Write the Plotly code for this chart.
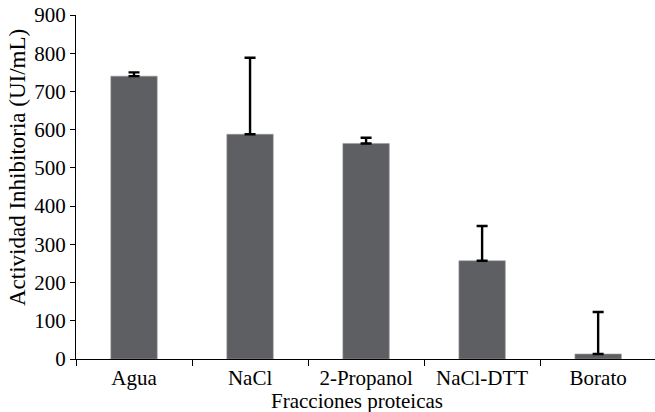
import plotly.graph_objects as go

categories = ["Agua", "NaCl", "2-Propanol", "NaCl-DTT", "Borato"]
values = [740, 588, 564, 257, 13]
errors = [10, 200, 15, 91, 110]
y_ticks = [0, 100, 200, 300, 400, 500, 600, 700, 800, 900]

FONT = "Liberation Serif, Times New Roman, serif"
FS = 21

fig = go.Figure()
fig.add_trace(go.Bar(
    x=categories, y=values, width=0.4,
    marker=dict(color="#5e5f63", line=dict(color="#9a9a9a", width=0.6)),
    showlegend=False, hoverinfo="skip",
))
# error bars drawn from bar top to bar top + error, with caps at both ends
fig.add_trace(go.Scatter(
    x=categories, y=[v + e / 2 for v, e in zip(values, errors)], mode="markers",
    marker=dict(size=0.1, color="rgba(0,0,0,0)"),
    error_y=dict(type="data", array=[e / 2 for e in errors], symmetric=True,
                 color="black", thickness=2.4, width=5.5),
    showlegend=False, hoverinfo="skip",
))

fig.update_layout(
    width=655, height=412,
    margin=dict(l=76, r=0, t=15, b=53),
    plot_bgcolor="white", paper_bgcolor="white",
    font=dict(family=FONT, size=FS, color="black"),
    xaxis=dict(
        type="category", range=[-0.5, 4.49], automargin=False,
        tickson="boundaries", ticks="outside", ticklen=6, tickwidth=1.2, tickcolor="black",
        showline=True, linecolor="black", linewidth=1.2,
        showgrid=False, zeroline=False,
        tickfont=dict(family=FONT, size=FS, color="black"),
    ),
    yaxis=dict(
        range=[0, 900], tickvals=y_ticks, automargin=False,
        ticks="outside", ticklen=5, tickwidth=1.2, tickcolor="black",
        showline=True, linecolor="black", linewidth=1.2,
        showgrid=False, zeroline=False,
        tickfont=dict(family=FONT, size=FS, color="black"),
    ),
    annotations=[
        dict(text="Fracciones proteicas", xref="paper", yref="paper",
             x=(357 - 76) / 579, y=(412 - 53 - 401) / 344, xanchor="center", yanchor="middle",
             showarrow=False, font=dict(family=FONT, size=FS, color="black")),
        dict(text="Actividad Inhibitoria (UI/mL)", xref="paper", yref="paper",
             x=(17 - 76) / 579, y=(359 - 168) / 344, xanchor="center", yanchor="middle",
             textangle=-90, showarrow=False, font=dict(family=FONT, size=23, color="black")),
    ],
)

fig.write_html("out.html", config={"displayModeBar": False})

# remove the browser's default page margin so the figure sits at the window's corner
with open("out.html", encoding="utf-8") as f:
    html = f.read()
html = html.replace("<body>", '<body style="margin:0;overflow:hidden">', 1)
with open("out.html", "w", encoding="utf-8") as f:
    f.write(html)
